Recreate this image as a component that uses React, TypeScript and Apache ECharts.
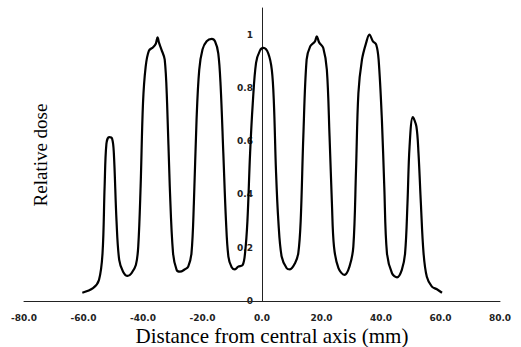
import React, { useEffect, useRef } from "react";
import * as echarts from "echarts";

const xValues: number[] = [
  -60.4, -56.8, -54.8, -53.6, -52.9, -52.3, -51.4, -50.4, -49.8, -48.9, -48.0, -46.7, -45.2, -43.9, -42.4,
  -41.6, -40.8, -40.0, -39.1, -38.0, -36.6, -35.7, -35.1, -34.6, -33.8, -32.7, -31.9, -31.0, -29.9, -28.7,
  -27.6, -25.9, -24.8, -23.7, -22.9, -22.0, -21.1, -20.0, -18.6, -16.9, -15.8, -14.7, -13.9, -13.0, -12.1,
  -11.3, -10.2, -9.1, -8.0, -6.5, -5.7, -4.9, -4.0, -3.1, -2.0, -0.7, 0.5, 2.1, 3.3, 4.0,
  4.7, 5.5, 6.6, 8.3, 9.4, 11.1, 12.2, 13.0, 13.9, 15.0, 16.2, 17.8, 18.4, 19.2, 20.6,
  21.8, 22.7, 23.5, 24.2, 25.7, 27.7, 29.4, 30.7, 31.6, 32.4, 33.6, 35.0, 36.1, 37.3, 38.4,
  39.2, 40.3, 41.1, 42.0, 43.7, 45.4, 47.0, 48.1, 48.9, 49.6, 50.7, 51.9, 52.6, 53.4, 54.3,
  55.4, 57.1, 58.8, 60.5,
];
const doseValues: number[] = [
  0.031, 0.048, 0.079, 0.18, 0.43, 0.59, 0.615, 0.61, 0.555, 0.30, 0.154, 0.11, 0.094, 0.104, 0.135,
  0.204, 0.43, 0.743, 0.88, 0.94, 0.953, 0.966, 0.99, 0.969, 0.944, 0.906, 0.743, 0.43, 0.18, 0.117,
  0.11, 0.119, 0.129, 0.18, 0.367, 0.68, 0.868, 0.944, 0.975, 0.984, 0.975, 0.93, 0.806, 0.555, 0.30,
  0.167, 0.127, 0.119, 0.129, 0.135, 0.18, 0.30, 0.555, 0.743, 0.894, 0.94, 0.95, 0.93, 0.868, 0.743,
  0.49, 0.30, 0.167, 0.123, 0.119, 0.142, 0.18, 0.30, 0.62, 0.906, 0.956, 0.975, 0.994, 0.971, 0.95,
  0.868, 0.62, 0.367, 0.204, 0.123, 0.098, 0.129, 0.204, 0.49, 0.78, 0.906, 0.969, 1.0, 0.975, 0.962,
  0.906, 0.68, 0.43, 0.18, 0.104, 0.089, 0.117, 0.18, 0.367, 0.58, 0.69, 0.655, 0.555, 0.367, 0.18,
  0.091, 0.054, 0.044, 0.031,
];

const xTickMin = -80;
const xTickMax = 80;
const xTickStep = 20;
const yTickMin = 0;
const yTickMax = 1.1;
const yTickStep = 0.2;

const xTitle = "Distance from central axis (mm)";
const yTitle = "Relative dose";

const GRID_LEFT = 24;
const GRID_RIGHT = 21;
const CHART_W = 521;

export default function App() {
  const ref = useRef<HTMLDivElement>(null);
  useEffect(() => {
    if (!ref.current) return;
    const chart = echarts.init(ref.current, undefined, { renderer: "svg" });
    const data = xValues.map((x, i) => [x, doseValues[i]]);
    const gridW = CHART_W - GRID_LEFT - GRID_RIGHT;
    const zeroOffset = (gridW * (0 - xTickMin)) / (xTickMax - xTickMin);
    chart.setOption({
      animation: false,
      backgroundColor: "#ffffff",
      grid: { left: GRID_LEFT, right: GRID_RIGHT, top: 8, bottom: 46, containLabel: false },
      xAxis: {
        type: "value",
        min: xTickMin,
        max: xTickMax,
        interval: xTickStep,
        axisLine: { show: true, onZero: false, lineStyle: { color: "#222", width: 1 } },
        axisTick: { show: false },
        splitLine: { show: false },
        axisLabel: {
          margin: 12,
          color: "#222",
          fontFamily: "DejaVu Sans",
          fontWeight: "bold",
          fontSize: 9,
          formatter: (v: number) => v.toFixed(1),
        },
      },
      yAxis: {
        type: "value",
        min: yTickMin,
        max: yTickMax,
        interval: yTickStep,
        offset: -zeroOffset,
        axisLine: { show: true, onZero: false, lineStyle: { color: "#222", width: 1 } },
        axisTick: { show: false },
        splitLine: { show: false },
        axisLabel: {
          margin: 9,
          color: "#222",
          fontFamily: "DejaVu Sans",
          fontWeight: "bold",
          fontSize: 9,
          formatter: (v: number) => (v > 1.01 ? "" : String(Math.round(v * 10) / 10)),
        },
      },
      series: [
        {
          type: "line",
          data,
          smooth: 0.35,
          symbol: "none",
          lineStyle: { color: "#000", width: 2.2 },
          z: 1,
        },
      ],
      graphic: [
        {
          type: "text",
          x: 272,
          y: 336,
          style: {
            text: xTitle,
            font: "21px 'Liberation Serif'",
            fill: "#000",
            textAlign: "center",
            textVerticalAlign: "middle",
          },
        },
        {
          type: "text",
          x: 40,
          y: 155,
          rotation: Math.PI / 2,
          style: {
            text: yTitle,
            font: "19px 'Liberation Serif'",
            fill: "#000",
            textAlign: "center",
            textVerticalAlign: "middle",
          },
        },
      ],
    });
    return () => chart.dispose();
  }, []);
  return <div ref={ref} style={{ width: 521, height: 347, position: "absolute", left: 0, top: 0 }} />;
}
